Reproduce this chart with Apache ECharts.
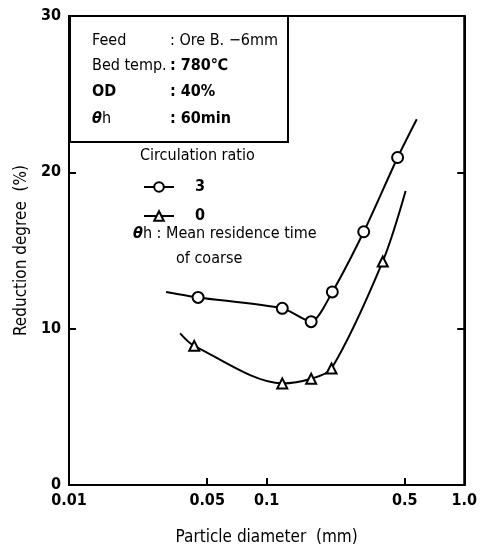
<!DOCTYPE html>
<html>
<head>
<meta charset="utf-8">
<script src="https://cdn.jsdelivr.net/npm/echarts@6/dist/echarts.min.js"></script>
<style>
  html, body { margin: 0; padding: 0; background: #fff; }
  #chart { width: 480px; height: 551px; }
</style>
</head>
<body>
<div id="chart"></div>
<script>
// values (x = particle diameter mm, y = reduction degree %)
var ratio3X = [0.045, 0.12, 0.168, 0.215, 0.31, 0.46];
var ratio3Y = [12.0, 11.3, 10.45, 12.35, 16.2, 20.95];
var ratio3Ends = [[0.031, 12.35], [0.575, 23.4]];

var ratio0X = [0.043, 0.12, 0.168, 0.213, 0.387];
var ratio0Y = [8.9, 6.5, 6.8, 7.45, 14.3];
var ratio0Ends = [[0.0365, 9.7], [0.505, 18.8]];

var xLabelValues = [0.01, 0.05, 0.1, 0.5, 1];
var xTickValues = [0.05, 0.1, 0.5];
var yTicks = [0, 10, 20, 30];

var font = '"Liberation Sans Narrow", "DejaVu Sans Condensed", sans-serif';

function buildCurve(xs, ys, ends) {
  var pts = [{ value: ends[0], symbol: 'none' }];
  for (var i = 0; i < xs.length; i++) pts.push({ value: [xs[i], ys[i]] });
  pts.push({ value: ends[1], symbol: 'none' });
  return pts;
}

var chart = echarts.init(document.getElementById('chart'));
chart.setOption({
  animation: false,
  backgroundColor: '#fff',
  textStyle: { fontFamily: font, color: '#000' },
  grid: {
    left: 69, right: 13, top: 16, bottom: 63,
    show: true, borderColor: '#000', borderWidth: 2
  },
  legend: {
    orient: 'vertical',
    left: 138, top: 174,
    itemWidth: 30, itemHeight: 12, itemGap: 13,
    data: ['3', '0'],
    textStyle: { fontSize: 16, fontWeight: 'bold', color: '#000', fontFamily: font, padding: [0, 0, 0, 16] },
    selectedMode: false
  },
  xAxis: {
    type: 'log', logBase: 10, min: 0.01, max: 1,
    name: 'Particle diameter  (mm)',
    nameLocation: 'middle', nameGap: 44,
    nameTextStyle: { fontSize: 17, color: '#000', fontFamily: font },
    axisLine: { lineStyle: { color: '#000', width: 2 } },
    axisTick: { inside: true, length: 7, lineStyle: { width: 2 }, customValues: xTickValues },
    axisLabel: {
      customValues: xLabelValues, fontSize: 16, fontWeight: 'bold', color: '#000', margin: 8,
      formatter: function (v) { return v === 1 ? '1.0' : String(v); }
    },
    splitLine: { show: false },
    minorTick: { show: false }
  },
  yAxis: [{
    type: 'value', min: 0, max: 30, interval: 10,
    name: 'Reduction degree  (%)',
    nameLocation: 'middle', nameGap: 36,
    nameTextStyle: { fontSize: 17, color: '#000', fontFamily: font },
    axisLine: { show: true, lineStyle: { color: '#000', width: 2 } },
    axisTick: { inside: true, length: 7, lineStyle: { width: 2 }, customValues: [10, 20] },
    axisLabel: { fontSize: 16, fontWeight: 'bold', color: '#000', margin: 8, customValues: yTicks },
    splitLine: { show: false }
  }, {
    type: 'value', min: 0, max: 30, interval: 10, position: 'right',
    axisLine: { show: true, lineStyle: { color: '#000', width: 2 } },
    axisTick: { inside: true, length: 7, lineStyle: { width: 2 }, customValues: [10, 20] },
    axisLabel: { show: false },
    splitLine: { show: false }
  }],
  series: [{
    name: '3',
    type: 'line',
    smooth: 0.25,
    data: buildCurve(ratio3X, ratio3Y, ratio3Ends),
    symbol: 'circle', symbolSize: 11,
    itemStyle: { color: '#fff', borderColor: '#000', borderWidth: 2 },
    lineStyle: { color: '#000', width: 2 }
  }, {
    name: '0',
    type: 'line',
    smooth: 0.3,
    data: buildCurve(ratio0X, ratio0Y, ratio0Ends),
    symbol: 'triangle', symbolSize: 10,
    itemStyle: { color: '#fff', borderColor: '#000', borderWidth: 2 },
    lineStyle: { color: '#000', width: 2 }
  }],
  graphic: [
    { type: 'rect', shape: { x: 70, y: 16, width: 218, height: 126 },
      style: { fill: '#fff', stroke: '#000', lineWidth: 2 }, z: 10 },
    { type: 'text', left: 92, top: 33, z: 11,
      style: { text: 'Feed', font: '16px ' + font, fill: '#000' } },
    { type: 'text', left: 170, top: 33, z: 11,
      style: { text: ': Ore B. −6mm', font: '16px ' + font, fill: '#000' } },
    { type: 'text', left: 92, top: 58, z: 11,
      style: { text: 'Bed temp.', font: '16px ' + font, fill: '#000' } },
    { type: 'text', left: 170, top: 58, z: 11,
      style: { text: ': 780℃', font: 'bold 16px ' + font, fill: '#000' } },
    { type: 'text', left: 92, top: 84, z: 11,
      style: { text: 'OD', font: 'bold 16px ' + font, fill: '#000' } },
    { type: 'text', left: 170, top: 84, z: 11,
      style: { text: ': 40%', font: 'bold 16px ' + font, fill: '#000' } },
    { type: 'text', left: 92, top: 111, z: 11,
      style: { text: '{i|θ}h', font: '16px ' + font, fill: '#000',
        rich: { i: { fontStyle: 'italic', fontWeight: 'bold', fontSize: 16, fontFamily: font } } } },
    { type: 'text', left: 170, top: 111, z: 11,
      style: { text: ': 60min', font: 'bold 16px ' + font, fill: '#000' } },
    { type: 'text', left: 140, top: 148,
      style: { text: 'Circulation ratio', font: '16px ' + font, fill: '#000' } },
    { type: 'text', left: 133, top: 226,
      style: { text: '{i|θ}h : Mean residence time', font: '16px ' + font, fill: '#000',
        rich: { i: { fontStyle: 'italic', fontWeight: 'bold', fontSize: 16, fontFamily: font } } } },
    { type: 'text', left: 176, top: 251,
      style: { text: 'of coarse', font: '16px ' + font, fill: '#000' } }
  ]
});
</script>
</body>
</html>
